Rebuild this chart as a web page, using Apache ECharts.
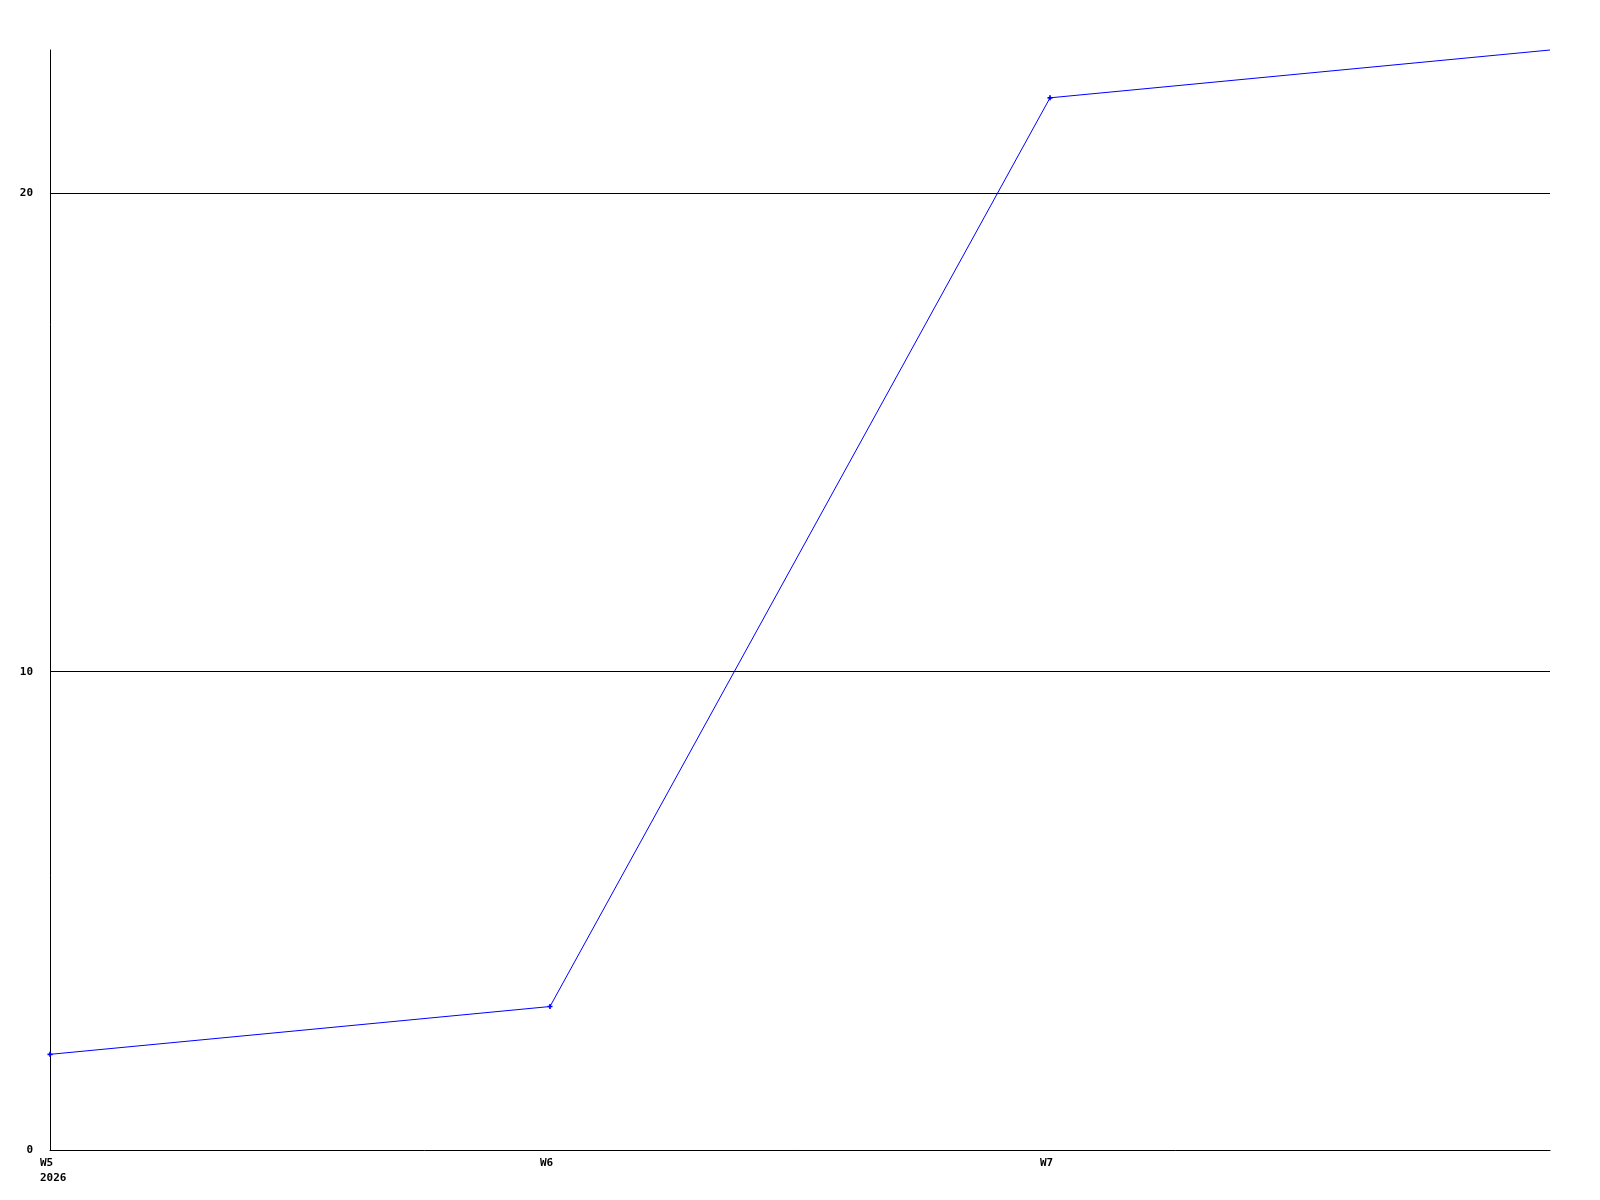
<!DOCTYPE html>
<html><head><meta charset="utf-8">
<script src="https://cdn.jsdelivr.net/npm/echarts@6/dist/echarts.min.js"></script>
<style>html,body{margin:0;padding:0;background:#fff}#c{width:1600px;height:1200px}</style>
</head><body><div id="c"></div>
<script>
const categories = ['W5', 'W6', 'W7', 'W8'];
const xLabels = ['W5\n2026', 'W6', 'W7', ''];
const values = [2, 3, 22, 23];
const yTicks = [0, 10, 20];

const chart = echarts.init(document.getElementById('c'), null, {renderer: 'canvas'});
const font = {fontFamily: 'DejaVu Sans Mono', fontWeight: 'bold', fontSize: 11, color: '#000'};
chart.setOption({
  animation: false,
  backgroundColor: '#fff',
  grid: {left: 50, right: 50, top: 50, bottom: 50, containLabel: false},
  xAxis: {
    type: 'category', data: categories, boundaryGap: false,
    axisLine: {lineStyle: {color: '#000', width: 1}},
    axisTick: {show: false},
    splitLine: {show: false},
    axisLabel: Object.assign({}, font, {
      interval: 0, align: 'left', margin: 6, lineHeight: 15,
      padding: [0, 0, 0, -10],
      formatter: (v, i) => xLabels[i]
    })
  },
  yAxis: {
    type: 'value', min: 0, max: 23, interval: 10,
    axisLine: {show: true, lineStyle: {color: '#000', width: 1}},
    axisTick: {show: false},
    splitLine: {show: true, showMaxLine: false, showMinLine: false, lineStyle: {color: '#000', width: 1}},
    axisLabel: Object.assign({}, font, {
      margin: 17, showMaxLabel: false,
      formatter: v => (yTicks.indexOf(v) >= 0 ? String(v) : '')
    })
  },
  series: [{
    type: 'line',
    data: values.map((v, i) => i === values.length - 1 ? {value: v, symbol: 'none'} : v),
    symbol: 'path://M2,0H4V2H6V4H4V6H2V4H0V2H2Z', symbolSize: 5, showAllSymbol: true,
    lineStyle: {color: '#0000ff', width: 1},
    itemStyle: {color: '#0000ff'},
    clip: false
  }]
});
</script></body></html>
